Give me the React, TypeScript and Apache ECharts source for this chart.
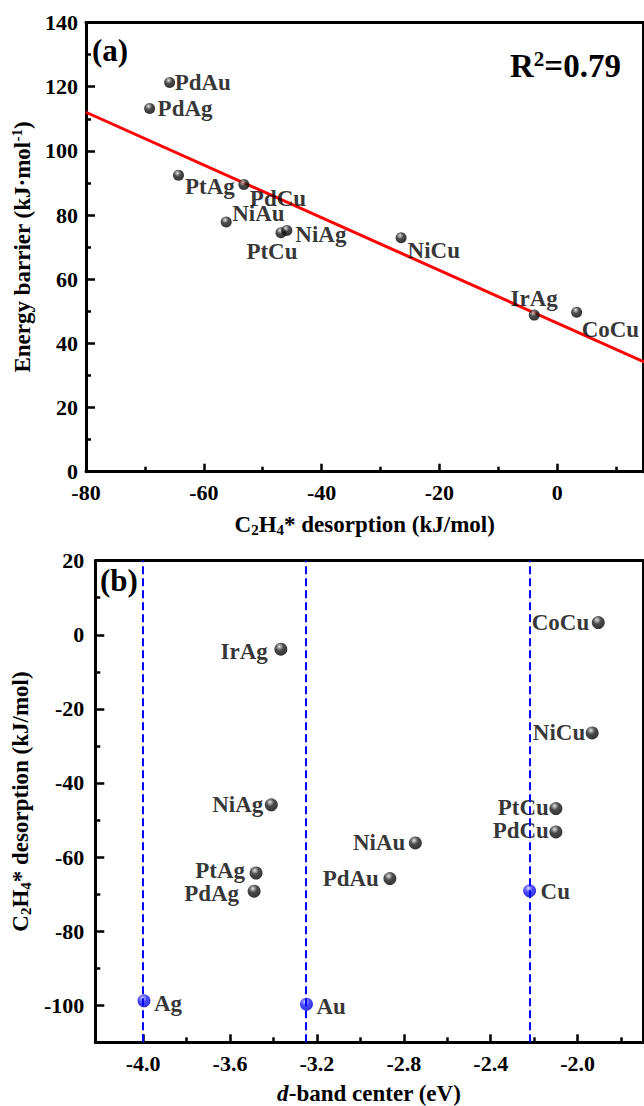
import React, { useEffect, useRef } from "react";
import * as echarts from "echarts";

// ---------- data ----------
const alloys = ["PdAu", "PdAg", "PtAg", "PdCu", "NiAu", "PtCu", "NiAg", "NiCu", "IrAg", "CoCu"];
const desorption = [-65.8, -69.2, -64.3, -53.2, -56.2, -46.9, -45.9, -26.5, -3.9, 3.3];
const barrier = [121.3, 113.2, 92.4, 89.5, 77.8, 74.5, 75.2, 72.9, 48.8, 49.7];
const dBand = [-2.864, -3.489, -3.48, -2.1, -2.747, -2.1, -3.41, -1.933, -3.366, -1.905];

const metals = ["Ag", "Au", "Cu"];
const metalDBand = [-3.996, -3.248, -2.221];
const metalDesorption = [-98.8, -99.7, -69.1];

const r2Value = "0.79";

const xTicksA = [-80, -60, -40, -20, 0];
const xMinorA = [-70, -50, -30, -10, 10];
const yTicksA = [0, 20, 40, 60, 80, 100, 120, 140];
const yMinorA = [10, 30, 50, 70, 90, 110, 130];

const xTicksB = [-4.0, -3.6, -3.2, -2.8, -2.4, -2.0];
const xMinorB = [-3.8, -3.4, -3.0, -2.6, -2.2, -1.8];
const yTicksB = [-100, -80, -60, -40, -20, 0, 20];
const yMinorB = [-90, -70, -50, -30, -10, 10];

// ---------- layout / style ----------
const FONT = "Liberation Serif";
const RANGE_A = { xMin: -80, xMax: 14.65, yMin: 0, yMax: 140 };
const RANGE_B = { xMin: -4.22, xMax: -1.7, yMin: -110, yMax: 20 };

type LP = { dx: number; dy: number; align: "left" | "right" | "center" };
const labelA: Record<string, LP> = {
  PdAu: { dx: 5, dy: 0, align: "left" },
  PdAg: { dx: 8, dy: 0, align: "left" },
  PtAg: { dx: 6.5, dy: 11, align: "left" },
  PdCu: { dx: 6, dy: 14, align: "left" },
  NiAu: { dx: 6, dy: -9, align: "left" },
  PtCu: { dx: -9, dy: 19, align: "center" },
  NiAg: { dx: 8.5, dy: 4, align: "left" },
  NiCu: { dx: 6.5, dy: 13, align: "left" },
  IrAg: { dx: 0, dy: -17, align: "center" },
  CoCu: { dx: 5, dy: 17, align: "left" },
};
const labelB: Record<string, LP> = {
  PdAu: { dx: -11, dy: 0, align: "right" },
  PdAg: { dx: -15, dy: 2, align: "right" },
  PtAg: { dx: -11, dy: -2, align: "right" },
  PdCu: { dx: -7, dy: -1, align: "right" },
  NiAu: { dx: -10, dy: 0, align: "right" },
  PtCu: { dx: -7, dy: -1, align: "right" },
  NiAg: { dx: -8, dy: 0, align: "right" },
  NiCu: { dx: -7, dy: 0, align: "right" },
  IrAg: { dx: -13, dy: 2, align: "right" },
  CoCu: { dx: -9, dy: 0, align: "right" },
  Ag: { dx: 10, dy: 3, align: "left" },
  Au: { dx: 10, dy: 2, align: "left" },
  Cu: { dx: 11, dy: 1, align: "left" },
};

const blackBall = () =>
  new echarts.graphic.RadialGradient(0.4, 0.3, 0.7, [
    { offset: 0, color: "#e6e6e6" },
    { offset: 0.18, color: "#8a8a8a" },
    { offset: 0.45, color: "#1e1e1e" },
    { offset: 1, color: "#000000" },
  ]);
const blueBall = () =>
  new echarts.graphic.RadialGradient(0.4, 0.3, 0.7, [
    { offset: 0, color: "#e8e8ff" },
    { offset: 0.2, color: "#7070ff" },
    { offset: 0.5, color: "#1a1aff" },
    { offset: 1, color: "#0000cc" },
  ]);

const richName = {
  b: { fontSize: 23, fontWeight: "bold", fontFamily: FONT, color: "#000", lineHeight: 26 },
  i: { fontSize: 23, fontWeight: "bold", fontStyle: "italic", fontFamily: FONT, color: "#000", lineHeight: 26 },
  sub: { fontSize: 15, fontWeight: "bold", fontFamily: FONT, color: "#000", lineHeight: 13, verticalAlign: "bottom" },
  sup: { fontSize: 15, fontWeight: "bold", fontFamily: FONT, color: "#000", lineHeight: 15, verticalAlign: "top" },
};

function linearFit(xs: number[], ys: number[]) {
  const n = xs.length;
  const mx = xs.reduce((a, b) => a + b, 0) / n;
  const my = ys.reduce((a, b) => a + b, 0) / n;
  let sxy = 0, sxx = 0;
  for (let i = 0; i < n; i++) {
    sxy += (xs[i] - mx) * (ys[i] - my);
    sxx += (xs[i] - mx) * (xs[i] - mx);
  }
  const slope = sxy / sxx;
  return { slope, intercept: my - slope * mx };
}

const axisLineStyle = { show: true, onZero: false, lineStyle: { color: "#000", width: 3 } };
const labelStyle = { color: "#000", fontSize: 22, fontWeight: "bold", fontFamily: FONT };

function majorX(grid: number, r: any, ticks: number[], fmt: (v: number) => string, nameRich: string, gap: number) {
  return {
    type: "value", gridIndex: grid, position: "bottom", min: r.xMin, max: r.xMax,
    axisLine: axisLineStyle,
    axisTick: { show: true, inside: true, length: 8, customValues: ticks, lineStyle: { color: "#000", width: 2.5 } },
    axisLabel: { show: true, customValues: ticks, margin: 10, formatter: fmt, ...labelStyle },
    splitLine: { show: false },
    name: nameRich, nameLocation: "middle", nameGap: gap,
    nameTextStyle: { rich: richName },
  };
}
function minorX(grid: number, r: any, ticks: number[]) {
  return {
    type: "value", gridIndex: grid, position: "bottom", min: r.xMin, max: r.xMax,
    axisLine: { show: false, onZero: false },
    axisTick: { show: true, inside: true, length: 5, customValues: ticks, lineStyle: { color: "#000", width: 2.5 } },
    axisLabel: { show: false }, splitLine: { show: false },
  };
}
function spineX(grid: number, r: any) {
  return {
    type: "value", gridIndex: grid, position: "top", min: r.xMin, max: r.xMax,
    axisLine: axisLineStyle, axisTick: { show: false }, axisLabel: { show: false }, splitLine: { show: false },
  };
}
function majorY(grid: number, r: any, ticks: number[], nameRich: string, gap: number, margin: number) {
  return {
    type: "value", gridIndex: grid, position: "left", min: r.yMin, max: r.yMax,
    axisLine: axisLineStyle,
    axisTick: { show: true, inside: true, length: 9, customValues: ticks, lineStyle: { color: "#000", width: 2.5 } },
    axisLabel: { show: true, customValues: ticks, margin, ...labelStyle },
    splitLine: { show: false },
    name: nameRich, nameLocation: "middle", nameGap: gap,
    nameTextStyle: { rich: richName },
  };
}
function minorY(grid: number, r: any, ticks: number[]) {
  return {
    type: "value", gridIndex: grid, position: "left", min: r.yMin, max: r.yMax,
    axisLine: { show: false, onZero: false },
    axisTick: { show: true, inside: true, length: 5, customValues: ticks, lineStyle: { color: "#000", width: 2.5 } },
    axisLabel: { show: false }, splitLine: { show: false },
  };
}
function spineY(grid: number, r: any) {
  return {
    type: "value", gridIndex: grid, position: "right", min: r.yMin, max: r.yMax,
    axisLine: axisLineStyle, axisTick: { show: false }, axisLabel: { show: false }, splitLine: { show: false },
  };
}

function pointLabel(p: LP) {
  return {
    show: true, position: "inside", align: p.align, verticalAlign: "middle",
    offset: [p.dx, p.dy], formatter: "{b}",
    color: "#000", fontSize: 23, fontWeight: "bold", fontFamily: FONT,
  };
}

export default function App() {
  const ref = useRef<HTMLDivElement>(null);
  useEffect(() => {
    if (!ref.current) return;
    const chart = echarts.init(ref.current, undefined, { renderer: "svg" });
    const fit = linearFit(desorption, barrier);
    const fitX = [RANGE_A.xMin, RANGE_A.xMax + 2];

    const option: any = {
      animation: false,
      backgroundColor: "#fff",
      grid: [
        { left: 86, top: 22.5, width: 557.5, height: 449.2 },
        { left: 95.3, top: 560.7, width: 547.5, height: 481.6 },
      ],
      xAxis: [
        majorX(0, RANGE_A, xTicksA, (v: number) => String(v),
          "{b|C}{sub|2}{b|H}{sub|4}{b|* desorption (kJ/mol)}", 40),
        minorX(0, RANGE_A, xMinorA),
        spineX(0, RANGE_A),
        majorX(1, RANGE_B, xTicksB, (v: number) => v.toFixed(1),
          "{i|d}{b|-band center (eV)}", 38),
        minorX(1, RANGE_B, xMinorB),
        spineX(1, RANGE_B),
      ],
      yAxis: [
        majorY(0, RANGE_A, yTicksA, "{b|Energy barrier (kJ·mol}{sup|-1}{b|)}", 44, 8),
        minorY(0, RANGE_A, yMinorA),
        spineY(0, RANGE_A),
        majorY(1, RANGE_B, yTicksB, "{b|C}{sub|2}{b|H}{sub|4}{b|* desorption (kJ/mol)}", 53, 11),
        minorY(1, RANGE_B, yMinorB),
        spineY(1, RANGE_B),
      ],
      graphic: [
        {
          type: "text", x: 92, y: 50, z: 10,
          style: { text: "(a)", fontSize: 31, fontWeight: "bold", fontFamily: FONT, fill: "#000", verticalAlign: "middle", align: "left" },
        },
        {
          type: "text", x: 100, y: 580, z: 10,
          style: { text: "(b)", fontSize: 31, fontWeight: "bold", fontFamily: FONT, fill: "#000", verticalAlign: "middle", align: "left" },
        },
        {
          type: "text", x: 510, y: 66, z: 10,
          style: {
            text: "{m|R}{s|2}{m|=" + r2Value + "}",
            align: "left", verticalAlign: "middle",
            rich: {
              m: { fontSize: 33, fontWeight: "bold", fontFamily: FONT, fill: "#000", lineHeight: 36 },
              s: { fontSize: 21, fontWeight: "bold", fontFamily: FONT, fill: "#000", lineHeight: 21, verticalAlign: "top" },
            },
          },
        },
      ],
      series: [
        {
          type: "line", xAxisIndex: 0, yAxisIndex: 0, z: 2, silent: true,
          symbol: "none", clip: true,
          lineStyle: { color: "#ff0000", width: 3 },
          data: fitX.map((x) => [x, fit.intercept + fit.slope * x]),
        },
        {
          type: "scatter", xAxisIndex: 0, yAxisIndex: 0, z: 3, symbolSize: 11,
          itemStyle: { color: blackBall() },
          data: alloys.map((n, i) => ({ name: n, value: [desorption[i], barrier[i]], label: pointLabel(labelA[n]) })),
        },
        {
          type: "scatter", xAxisIndex: 3, yAxisIndex: 3, z: 1, data: [],
          markLine: {
            silent: true, symbol: "none", animation: false,
            label: { show: false },
            lineStyle: { color: "#0000ff", width: 2, type: [8, 4] },
            data: metalDBand.map((v) => ({ xAxis: v })),
          },
        },
        {
          type: "scatter", xAxisIndex: 3, yAxisIndex: 3, z: 3, symbolSize: 13,
          itemStyle: { color: blackBall() },
          data: alloys.map((n, i) => ({ name: n, value: [dBand[i], desorption[i]], label: pointLabel(labelB[n]) })),
        },
        {
          type: "scatter", xAxisIndex: 3, yAxisIndex: 3, z: 3, symbolSize: 13,
          itemStyle: { color: blueBall() },
          data: metals.map((n, i) => ({ name: n, value: [metalDBand[i], metalDesorption[i]], label: pointLabel(labelB[n]) })),
        },
      ],
    };
    chart.setOption(option);
    return () => chart.dispose();
  }, []);
  return <div ref={ref} style={{ position: "absolute", left: 0, top: 0, width: 644, height: 1106, background: "#fff" }} />;
}
